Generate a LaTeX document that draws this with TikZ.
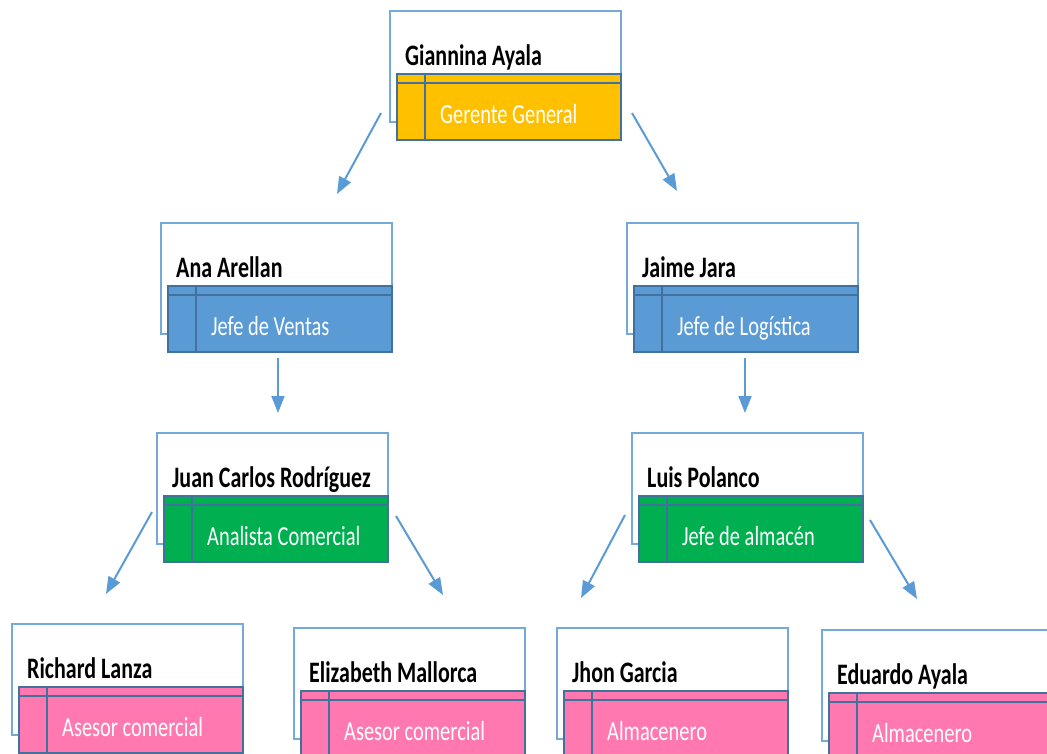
\documentclass[tikz,border=0pt]{standalone}
\usepackage{fontspec}
\setmainfont[FakeStretch=0.74]{Carlito}
\usetikzlibrary{arrows.meta}

\definecolor{borde}{HTML}{41719C}
\definecolor{linea}{HTML}{5B9BD5}
\definecolor{oro}{HTML}{FFC000}
\definecolor{azul}{HTML}{5B9BD5}
\definecolor{verde}{HTML}{00B050}
\definecolor{rosa}{HTML}{FF79B0}

% one card: id, position, colour, name, role
\newcommand{\tarjeta}[5]{%
  \node[marco] (#1) at #2 {};
  \node[cargo, fill=#3] (#1c) at ([xshift=7pt,yshift=-63pt]#1.north west) {};
  \draw[borde, line width=2pt] ([yshift=-9pt]#1c.north west) -- ([yshift=-9pt]#1c.north east);
  \draw[borde, line width=2pt] ([xshift=28pt]#1c.north west) -- ([xshift=28pt]#1c.south west);
  \node[nombre] (#1n) at ([xshift=15pt,yshift=-54pt]#1.north west) {#4};
  \node[puesto] (#1p) at ([xshift=43pt,yshift=-49pt]#1c.north west) {#5};
}

\begin{document}
\begin{tikzpicture}[x=1pt, y=-1pt,
    marco/.style={draw=linea!85!white, line width=1.5pt, fill=white, minimum width=231pt, minimum height=111pt, anchor=north west, inner sep=0, outer sep=0},
    cargo/.style={draw=borde, line width=2pt, minimum width=224pt, minimum height=66pt, anchor=north west, inner sep=0, outer sep=0},
    nombre/.style={anchor=base west, inner sep=0, font=\fontsize{29.7}{32}\selectfont\bfseries},
    puesto/.style={anchor=base west, inner sep=0, text=white, font=\fontsize{27.6}{30}\selectfont},
    flecha/.style={linea, line width=2pt, -{Triangle[length=17pt,width=13pt]}}]
    \useasboundingbox (0,0) rectangle (1047,753);
    \clip (0,0) rectangle (1047,753);

    % Level 1
    \tarjeta{gg}{(390,11)}{oro}{Giannina Ayala}{Gerente General}

    % Level 2
    \tarjeta{ventas}{(161,223)}{azul}{Ana Arellan}{Jefe de Ventas}
    \tarjeta{logistica}{(627,223)}{azul}{Jaime Jara}{Jefe de Logística}

    % Level 3
    \tarjeta{analista}{(157,433)}{verde}{Juan Carlos Rodríguez}{Analista Comercial}
    \tarjeta{almacen}{(632,433)}{verde}{Luis Polanco}{Jefe de almacén}

    % Level 4
    \tarjeta{asesor1}{(12,624)}{rosa}{Richard Lanza}{Asesor comercial}
    \tarjeta{asesor2}{(294,628)}{rosa}{Elizabeth Mallorca}{Asesor comercial}
    \tarjeta{almacenero1}{(557,628)}{rosa}{Jhon Garcia}{Almacenero}
    \tarjeta{almacenero2}{(822,630)}{rosa}{Eduardo Ayala}{Almacenero}

    % Arrows
    \coordinate (g1) at (381,113);  \coordinate (v1) at (337,194);
    \coordinate (g2) at (632,113);  \coordinate (l1) at (677,191);
    \coordinate (v2) at (278,358);  \coordinate (a1) at (278,413);
    \coordinate (l2) at (745,358);  \coordinate (p1) at (745,413);
    \coordinate (a2) at (152,512);  \coordinate (r1) at (106,594);
    \coordinate (a3) at (396,516);  \coordinate (e1) at (443,595);
    \coordinate (p2) at (625,515);  \coordinate (j1) at (581,598);
    \coordinate (p3) at (870,520);  \coordinate (d1) at (917,599);
    \draw[flecha] (g1) -- (v1);
    \draw[flecha] (g2) -- (l1);
    \draw[flecha] (v2) -- (a1);
    \draw[flecha] (l2) -- (p1);
    \draw[flecha] (a2) -- (r1);
    \draw[flecha] (a3) -- (e1);
    \draw[flecha] (p2) -- (j1);
    \draw[flecha] (p3) -- (d1);
\end{tikzpicture}
\end{document}
